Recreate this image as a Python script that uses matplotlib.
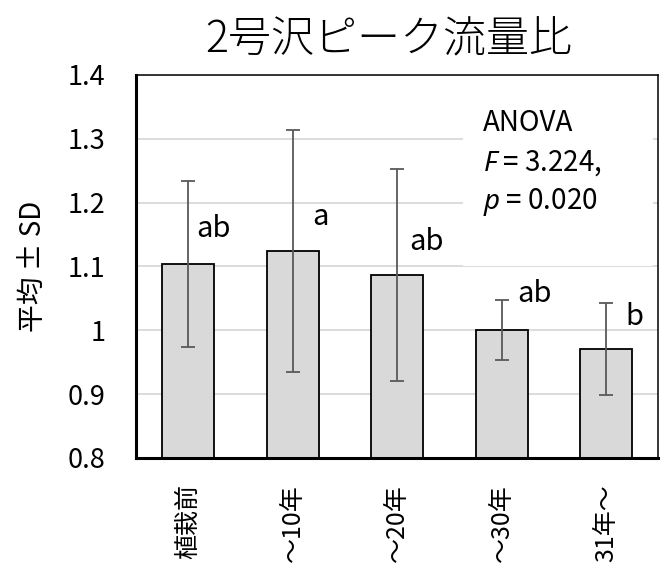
import matplotlib
matplotlib.use("Agg")
import matplotlib.pyplot as plt
import numpy as np
from matplotlib.patches import Rectangle

plt.rcParams['font.family'] = ['Noto Sans CJK JP', 'DejaVu Sans']
plt.rcParams['mathtext.fontset'] = 'custom'
plt.rcParams['mathtext.rm'] = 'Noto Sans'
plt.rcParams['mathtext.it'] = 'Noto Sans:italic'

# data
categories = ["植栽前", "～10年", "～20年", "～30年", "31年～"]
means = [1.104, 1.124, 1.087, 1.001, 0.971]
sds = [0.130, 0.189, 0.166, 0.047, 0.072]
letters = ["ab", "a", "ab", "ab", "b"]
letter_dx = [0.08, 0.19, 0.12, 0.15, 0.18]
letter_y = [1.158, 1.177, 1.139, 1.056, 1.021]
yticks = [0.8, 0.9, 1.0, 1.1, 1.2, 1.3, 1.4]
ytick_labels = ["0.8", "0.9", "1", "1.1", "1.2", "1.3", "1.4"]

fig = plt.figure(figsize=(6.63, 5.76), dpi=100)
ax = fig.add_axes([0.205, 0.205, 0.788, 0.665])

x = np.arange(len(categories))
ax.bar(x, means, width=0.5, color="#d9d9d9", edgecolor="black", linewidth=1.3, zorder=2)
ax.errorbar(x, means, yerr=sds, fmt="none", ecolor="#595959", elinewidth=1.3,
            capsize=5, capthick=1.3, zorder=3)

for i in range(len(categories)):
    ax.text(x[i] + letter_dx[i], letter_y[i], letters[i], fontsize=21,
            ha="left", va="center", zorder=4)

ax.set_xlim(-0.5, len(categories) - 0.5)
ax.set_ylim(0.8, 1.4)
ax.set_yticks(yticks)
ax.set_yticklabels(ytick_labels)
ax.set_xticks(x)
ax.set_xticklabels(categories, rotation=90, va="top")
ax.tick_params(axis="y", length=0, pad=22, labelsize=19.5)
ax.tick_params(axis="x", length=0, pad=19, labelsize=18)

# gridlines
ax.yaxis.grid(True, color="#d9d9d9", linewidth=1.3, zorder=0)
ax.set_axisbelow(True)

for s in ["left", "bottom"]:
    ax.spines[s].set_linewidth(2.2)
for s in ["top", "right"]:
    ax.spines[s].set_linewidth(1.1)

# ANOVA box
ax.add_patch(Rectangle((0.626, 0.5), 0.363, 0.49, transform=ax.transAxes,
                       facecolor="white", edgecolor="none", zorder=1))
ax.text(0.665, 0.875, "ANOVA", transform=ax.transAxes, fontsize=20, va="center", zorder=4)
ax.text(0.665, 0.770, r"$\mathit{F}$ = 3.224,", transform=ax.transAxes, fontsize=20,
        va="center", zorder=4)
ax.text(0.665, 0.668, r"$\mathit{p}$ = 0.020", transform=ax.transAxes, fontsize=20,
        va="center", zorder=4)

ax.set_ylabel("平均 ± SD", fontsize=20, labelpad=14)
fig.text(0.587, 0.93, "2号沢ピーク流量比", fontsize=31, ha="center", va="center",
         fontweight="light")

fig.savefig("out.png", dpi=100)
